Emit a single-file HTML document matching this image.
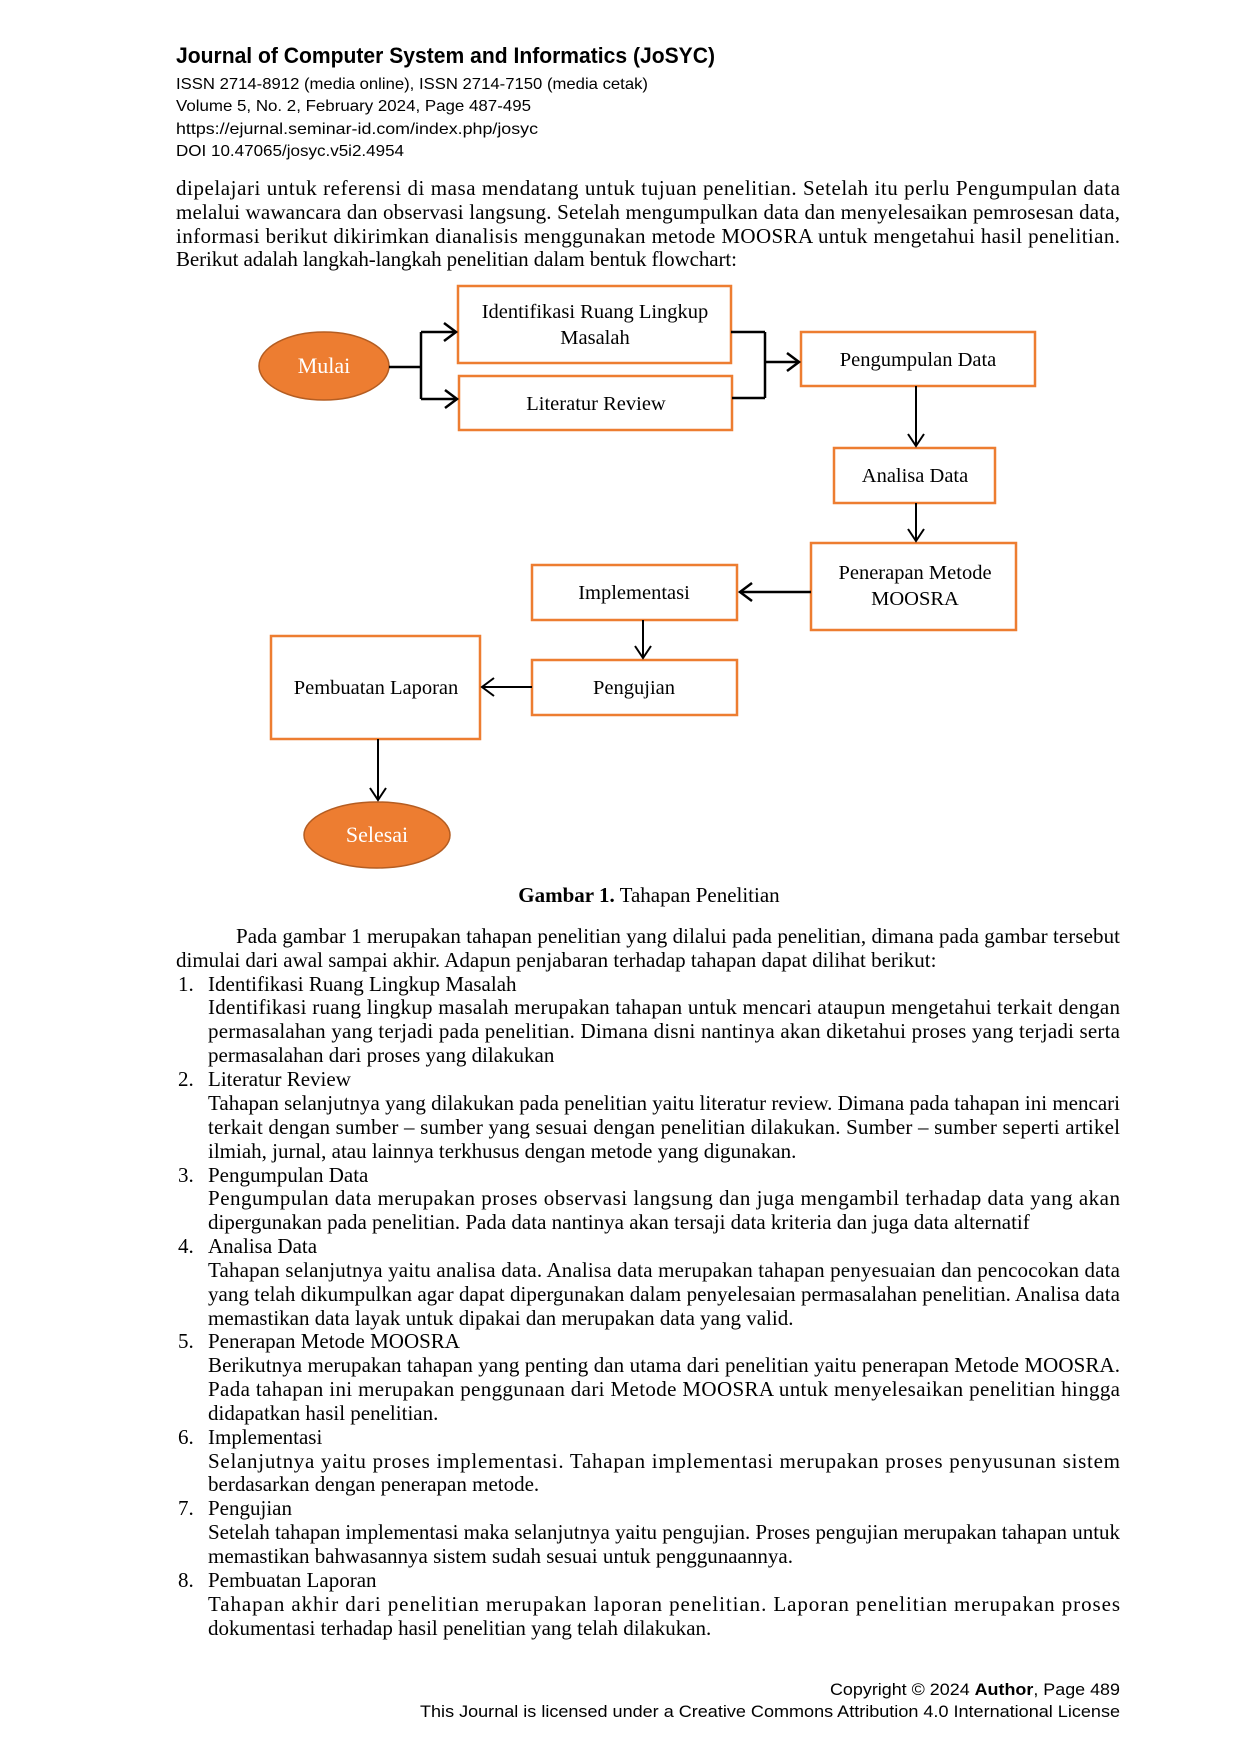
<!DOCTYPE html>
<html><head><meta charset="utf-8"><style>
html,body{margin:0;padding:0;background:#fff}
svg{display:block}
.h{font-family:"Liberation Sans",sans-serif;fill:#000}
.t{font-family:"Liberation Serif",serif;font-size:21px;fill:#000}
.b{font-family:"Liberation Serif",serif;font-size:20.5px;fill:#000}
.w{font-family:"Liberation Serif",serif;font-size:22px;fill:#fff}
</style></head><body>
<svg width="1240" height="1754" viewBox="0 0 1240 1754" xmlns="http://www.w3.org/2000/svg">
<text class="h" x="176" y="63" font-size="22" font-weight="bold" textLength="539" lengthAdjust="spacingAndGlyphs">Journal of Computer System and Informatics (JoSYC)</text>
<text class="h" x="176" y="89" font-size="16" textLength="472" lengthAdjust="spacingAndGlyphs">ISSN 2714-8912 (media online), ISSN 2714-7150 (media cetak)</text>
<text class="h" x="176" y="111" font-size="16" textLength="355" lengthAdjust="spacingAndGlyphs">Volume 5, No. 2, February 2024, Page 487-495</text>
<text class="h" x="176" y="134" font-size="16" textLength="362" lengthAdjust="spacingAndGlyphs">https://ejurnal.seminar-id.com/index.php/josyc</text>
<text class="h" x="176" y="156" font-size="16" textLength="228" lengthAdjust="spacingAndGlyphs">DOI 10.47065/josyc.v5i2.4954</text>

<text class="t" x="176" y="195" textLength="944">dipelajari untuk referensi di masa mendatang untuk tujuan penelitian. Setelah itu perlu Pengumpulan data</text>
<text class="t" x="176" y="219" textLength="944">melalui wawancara dan observasi langsung. Setelah mengumpulkan data dan menyelesaikan pemrosesan data,</text>
<text class="t" x="176" y="243" textLength="944">informasi berikut dikirimkan dianalisis menggunakan metode MOOSRA untuk mengetahui hasil penelitian.</text>
<text class="t" x="176" y="266" textLength="561">Berikut adalah langkah-langkah penelitian dalam bentuk flowchart:</text>

<g fill="#fff" stroke="#ED7D31" stroke-width="2.5">
<rect x="458" y="286" width="273" height="77"/>
<rect x="459" y="376" width="273" height="54"/>
<rect x="801" y="332" width="234" height="54"/>
<rect x="834" y="448" width="161" height="55"/>
<rect x="811" y="543" width="205" height="87"/>
<rect x="532" y="565" width="205" height="55"/>
<rect x="532" y="660" width="205" height="55"/>
<rect x="271" y="636" width="209" height="103"/>
</g>
<ellipse cx="324" cy="366" rx="65" ry="34" fill="#ED7D31" stroke="#B45D22" stroke-width="1.5"/>
<ellipse cx="377" cy="835" rx="73" ry="33" fill="#ED7D31" stroke="#B45D22" stroke-width="1.5"/>
<g stroke="#000" stroke-width="2.5" fill="none">
<path d="M389 367H421M421 332V399M421 332H456M421 399H457"/>
<polyline points="444,323 456,332 444,341"/>
<polyline points="445,390 457,399 445,408"/>
<path d="M731 332H765M732 398H765M765 332V398M765 362H799"/>
<polyline points="787,353 799,362 787,371"/>
</g>
<g stroke="#000" stroke-width="2" fill="none">
<path d="M916 386V446"/><polyline points="908,434 916,446 924,434"/>
<path d="M916 503V541"/><polyline points="908,529 916,541 924,529"/>
<path d="M811 592H740" stroke-width="2.5"/><polyline points="752,583 740,592 752,601" stroke-width="2.5"/>
<path d="M643 620V658"/><polyline points="635,646 643,658 651,646"/>
<path d="M532 687H482"/><polyline points="494,678 482,687 494,696"/>
<path d="M378 739V800"/><polyline points="370,788 378,800 386,788"/>
</g>
<g text-anchor="middle">
<text class="b" x="595" y="318">Identifikasi  Ruang Lingkup</text>
<text class="b" x="595" y="344">Masalah</text>
<text class="b" x="596" y="410">Literatur Review</text>
<text class="b" x="918" y="366">Pengumpulan Data</text>
<text class="b" x="915" y="482">Analisa Data</text>
<text class="b" x="915" y="579">Penerapan Metode</text>
<text class="b" x="915" y="605">MOOSRA</text>
<text class="b" x="634" y="599">Implementasi</text>
<text class="b" x="634" y="694">Pengujian</text>
<text class="b" x="376" y="694">Pembuatan Laporan</text>
<text class="w" x="324" y="373">Mulai</text>
<text class="w" x="377" y="842">Selesai</text>
<text class="t" x="649" y="902"><tspan font-weight="bold">Gambar 1.</tspan> Tahapan Penelitian</text>
</g>

<text class="t" x="236" y="943" textLength="884">Pada gambar 1 merupakan tahapan penelitian yang dilalui pada penelitian, dimana pada gambar tersebut</text>
<text class="t" x="176" y="967">dimulai dari awal sampai akhir. Adapun penjabaran terhadap tahapan dapat dilihat berikut:</text>
<text class="t" x="178" y="991">1.</text><text class="t" x="208" y="991">Identifikasi Ruang Lingkup Masalah</text>
<text class="t" x="208" y="1014" textLength="912">Identifikasi ruang lingkup masalah merupakan tahapan untuk mencari ataupun mengetahui terkait dengan</text>
<text class="t" x="208" y="1038" textLength="912">permasalahan yang terjadi pada penelitian. Dimana disni nantinya akan diketahui proses yang terjadi serta</text>
<text class="t" x="208" y="1062">permasalahan dari proses yang dilakukan</text>
<text class="t" x="178" y="1086">2.</text><text class="t" x="208" y="1086">Literatur Review</text>
<text class="t" x="208" y="1110" textLength="912">Tahapan selanjutnya yang dilakukan pada penelitian yaitu literatur review. Dimana pada tahapan ini mencari</text>
<text class="t" x="208" y="1134" textLength="912">terkait dengan sumber – sumber yang sesuai dengan penelitian dilakukan. Sumber – sumber seperti artikel</text>
<text class="t" x="208" y="1158">ilmiah, jurnal, atau lainnya terkhusus dengan metode yang digunakan.</text>
<text class="t" x="178" y="1182">3.</text><text class="t" x="208" y="1182">Pengumpulan Data</text>
<text class="t" x="208" y="1205" textLength="912">Pengumpulan data merupakan proses observasi langsung dan juga mengambil terhadap data yang akan</text>
<text class="t" x="208" y="1229">dipergunakan pada penelitian. Pada data nantinya akan tersaji data kriteria dan juga data alternatif</text>
<text class="t" x="178" y="1253">4.</text><text class="t" x="208" y="1253">Analisa Data</text>
<text class="t" x="208" y="1277" textLength="912">Tahapan selanjutnya yaitu analisa data. Analisa data merupakan tahapan penyesuaian dan pencocokan data</text>
<text class="t" x="208" y="1301" textLength="912">yang telah dikumpulkan agar dapat dipergunakan dalam penyelesaian permasalahan penelitian. Analisa data</text>
<text class="t" x="208" y="1325">memastikan data layak untuk dipakai dan merupakan data yang valid.</text>
<text class="t" x="178" y="1348">5.</text><text class="t" x="208" y="1348">Penerapan Metode MOOSRA</text>
<text class="t" x="208" y="1372" textLength="912">Berikutnya merupakan tahapan yang penting dan utama dari penelitian yaitu penerapan Metode MOOSRA.</text>
<text class="t" x="208" y="1396" textLength="912">Pada tahapan ini merupakan penggunaan dari Metode MOOSRA untuk menyelesaikan penelitian hingga</text>
<text class="t" x="208" y="1420">didapatkan hasil penelitian.</text>
<text class="t" x="178" y="1444">6.</text><text class="t" x="208" y="1444">Implementasi</text>
<text class="t" x="208" y="1468" textLength="912">Selanjutnya yaitu proses implementasi. Tahapan implementasi merupakan proses penyusunan sistem</text>
<text class="t" x="208" y="1491">berdasarkan dengan penerapan metode.</text>
<text class="t" x="178" y="1515">7.</text><text class="t" x="208" y="1515">Pengujian</text>
<text class="t" x="208" y="1539" textLength="912">Setelah tahapan implementasi maka selanjutnya yaitu pengujian. Proses pengujian merupakan tahapan untuk</text>
<text class="t" x="208" y="1563">memastikan bahwasannya sistem sudah sesuai untuk penggunaannya.</text>
<text class="t" x="178" y="1587">8.</text><text class="t" x="208" y="1587">Pembuatan Laporan</text>
<text class="t" x="208" y="1611" textLength="912">Tahapan akhir dari penelitian merupakan laporan penelitian. Laporan penelitian merupakan proses</text>
<text class="t" x="208" y="1635">dokumentasi terhadap hasil penelitian yang telah dilakukan.</text>

<text class="h" x="830" y="1695" font-size="17" textLength="290" lengthAdjust="spacingAndGlyphs">Copyright © 2024 <tspan font-weight="bold">Author</tspan>, Page 489</text>
<text class="h" x="420" y="1717" font-size="17" textLength="700" lengthAdjust="spacingAndGlyphs">This Journal is licensed under a Creative Commons Attribution 4.0 International License</text>
</svg>
</body></html>
